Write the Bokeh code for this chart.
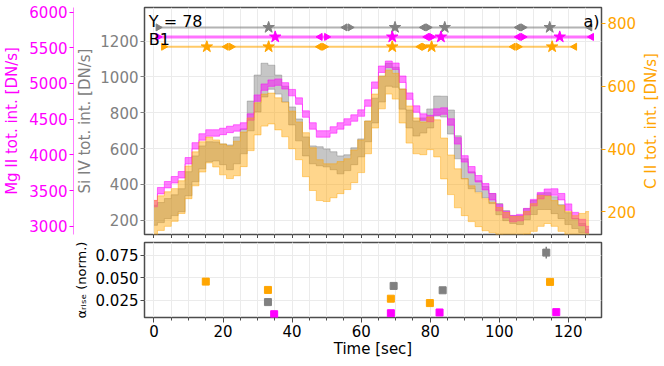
import math
from bokeh.plotting import figure
from bokeh.models import (Range1d, LinearAxis, SingleIntervalTicker, FixedTicker,
                          NumeralTickFormatter, Label, ColumnDataSource)
from bokeh.layouts import column, row
from bokeh.embed import file_html
from bokeh.resources import INLINE

# ---------------- data ----------------
time = [0, 2, 4, 6, 8, 10, 12, 14, 16, 18,
        20, 22, 24, 26, 28, 30, 32, 34, 36, 38,
        40, 42, 44, 46, 48, 50, 52, 54, 56, 58,
        60, 62, 64, 66, 68, 70, 72, 74, 76, 78,
        80, 82, 84, 86, 88, 90, 92, 94, 96, 98,
        100, 102, 104, 106, 108, 110, 112, 114, 116, 118,
        120, 122, 124, 126]

mg_int = [3317, 3498, 3582, 3651, 3721, 3917, 4126, 4251, 4307, 4307,
          4328, 4356, 4377, 4405, 4530, 4795, 4949, 5005, 5019, 4967,
          4872, 4754, 4572, 4405, 4293, 4293, 4349, 4405, 4461, 4516,
          4586, 4726, 4977, 5200, 5270, 5242, 5060, 4823, 4642, 4530,
          4509, 4600, 4614, 4461, 4196, 3944, 3791, 3665, 3554, 3414,
          3261, 3163, 3107, 3121, 3205, 3331, 3428, 3477, 3480, 3414,
          3268, 3149, 3052, 2954]
mg_err = 45

si_int = [228, 243, 265, 284, 312, 404, 487, 551, 582, 584,
          568, 551, 590, 640, 782, 907, 982, 998, 957, 904,
          782, 704, 612, 565, 557, 548, 532, 509, 521, 557,
          604, 696, 812, 932, 1012, 998, 876, 765, 712, 729,
          768, 837, 834, 748, 607, 487, 423, 390, 357, 321,
          262, 226, 204, 201, 234, 271, 304, 307, 284, 248,
          209, 182, 157, 132]
si_err = [56, 56, 56, 58, 64, 67, 72, 64, 56, 53,
          58, 69, 75, 69, 83, 103, 94, 67, 53, 44,
          50, 61, 53, 50, 53, 50, 50, 50, 44, 47,
          50, 58, 69, 72, 64, 56, 56, 50, 42, 42,
          53, 56, 58, 67, 64, 56, 47, 31, 31, 28,
          31, 28, 22, 25, 31, 39, 44, 47, 47, 39,
          33, 28, 25, 17]

c_int = [179, 196, 209, 222, 247, 294, 337, 375, 397, 386,
         367, 358, 370, 399, 447, 496, 524, 529, 512, 494,
         461, 426, 382, 336, 301, 293, 299, 309, 320, 345,
         377, 437, 521, 580, 613, 600, 537, 478, 442, 434,
         450, 434, 370, 318, 275, 247, 226, 207, 191, 182,
         171, 160, 150, 150, 165, 182, 203, 207, 195, 179,
         163, 152, 152, 152]
c_err = [57, 55, 55, 52, 52, 52, 54, 48, 41, 43,
         49, 52, 55, 55, 52, 51, 51, 49, 51, 55,
         60, 60, 70, 68, 65, 60, 54, 51, 49, 52,
         52, 52, 54, 52, 38, 41, 54, 59, 57, 52,
         52, 59, 65, 63, 62, 59, 57, 54, 51, 48,
         43, 38, 35, 35, 36, 44, 49, 44, 41, 41,
         38, 36, 43, 49]

# rise/decay intervals (start, peak, end) shown on top of the panel
si_start = [1.2, 56.8, 79.4, 106.9]
si_peak = [33.2, 69.8, 84.2, 114.6]
si_end = [55.3, 78.0, 105.5, 126.2]
mg_start = [1.2, 50.0, 80.4, 106.9]
mg_peak = [35.1, 69.0, 83.1, 117.5]
mg_end = [48.1, 79.0, 105.5, 126.7]
c_start = [2.8, 22.4, 49.4, 78.3, 105.5]
c_peak = [15.3, 33.2, 69.0, 80.4, 115.3]
c_end = [20.9, 47.9, 77.0, 104.0, 121.8]

# alpha_rise (norm.) in the lower panel
c_alpha_t = [15.0, 33.0, 68.6, 79.9, 114.7]
c_alpha = [0.0456, 0.0363, 0.0265, 0.0216, 0.0453]
c_alpha_err = [0.0010, 0.0010, 0.0010, 0.0010, 0.0010]
si_alpha_t = [33.0, 69.4, 83.6, 113.6]
si_alpha = [0.0227, 0.0408, 0.0359, 0.0780]
si_alpha_err = [0.0010, 0.0010, 0.0010, 0.0066]
mg_alpha_t = [34.8, 68.6, 82.7, 116.5]
mg_alpha = [0.0092, 0.0103, 0.0111, 0.0115]
mg_alpha_err = [0.0010, 0.0010, 0.0010, 0.0010]

# tick positions
x_minor_ticks = [0, 5, 10, 15, 20, 25, 30, 35, 40, 45, 50, 55, 60, 65,
                 70, 75, 80, 85, 90, 95, 100, 105, 110, 115, 120, 125]
alpha_ticks = [0.025, 0.05, 0.075]

# ---------------- styling ----------------
FONT = "DejaVu Sans"
MAG, GRAY, ORANGE = "#ff00ff", "#808080", "#ffa500"
FRAME = "#4d4d4d"
GRID = "#ebebeb"
SI_LEVEL, MG_LEVEL, C_LEVEL = 1276, 1223, 1168
TOP_H, BOT_H, FRAME_W, LEFT_W = 227, 75, 457, 143


def style_axis(ax, color, tick_color=None):
    ax.axis_label_text_font = FONT
    ax.axis_label_text_font_size = "15px"
    ax.axis_label_text_font_style = "normal"
    ax.axis_label_text_color = color
    ax.major_label_text_font = FONT
    ax.major_label_text_font_size = "15px"
    ax.major_label_text_color = color
    ax.major_tick_line_color = tick_color or color
    ax.minor_tick_line_color = tick_color or color
    ax.major_tick_out = 4
    ax.major_tick_in = 0
    ax.minor_tick_out = 2
    ax.minor_tick_in = 0
    ax.major_label_standoff = 2


x_range = Range1d(-2.75, 129.6)
si_range = Range1d(120.6, 1387)

top = figure(frame_width=FRAME_W, frame_height=TOP_H, x_range=x_range,
             y_range=si_range, output_backend="svg",
             toolbar_location=None, min_border_left=LEFT_W, min_border_right=40,
             min_border_top=7, min_border_bottom=0)
top.extra_y_ranges = {"mg": Range1d(2884, 6065), "c2": Range1d(128, 850.5)}
top.outline_line_color = FRAME
top.outline_line_width = 1.5
top.background_fill_color = "white"
top.border_fill_color = "white"

# Si IV axis (inner left)
yax = top.yaxis[0]
yax.ticker = SingleIntervalTicker(interval=200, num_minor_ticks=0)
yax.axis_label = "Si IV tot. int. [DN/s]"
style_axis(yax, GRAY)
yax.axis_line_color = None
yax.axis_label_standoff = 3

# Mg II axis (outer left)
mg_ax = LinearAxis(y_range_name="mg", axis_label="Mg II tot. int. [DN/s]",
                   ticker=SingleIntervalTicker(interval=500, num_minor_ticks=0))
style_axis(mg_ax, MAG)
mg_ax.axis_line_color = MAG
mg_ax.axis_line_alpha = 0.5
mg_ax.axis_label_standoff = 5
top.add_layout(mg_ax, "left")

# C II axis (right)
c_ax = LinearAxis(y_range_name="c2",
                  ticker=SingleIntervalTicker(interval=200, num_minor_ticks=0))
style_axis(c_ax, ORANGE)
c_ax.axis_line_color = None
top.add_layout(c_ax, "right")

# x axis of the upper panel: tick marks only
xax = top.xaxis[0]
xax.ticker = FixedTicker(ticks=[], minor_ticks=x_minor_ticks)
style_axis(xax, "black", FRAME)
xax.axis_line_color = None
xax.minor_tick_out = 4
xax.major_label_standoff = 0

top.xgrid.grid_line_color = GRID
top.xgrid.minor_grid_line_color = GRID
top.ygrid.grid_line_color = GRID


def band(p, c, e, color, alpha, rname):
    if isinstance(e, (int, float)):
        e = [e] * len(c)
    lo = [ci - ei for ci, ei in zip(c, e)]
    hi = [ci + ei for ci, ei in zip(c, e)]
    src = ColumnDataSource(dict(t=time, lo=lo, hi=hi))
    p.varea_step(x="t", y1="lo", y2="hi", step_mode="center", source=src,
                 fill_color=color, fill_alpha=alpha, y_range_name=rname)
    for col in ("lo", "hi"):
        p.step(x="t", y=col, mode="center", source=src, line_color=color,
               line_alpha=alpha, line_width=1, y_range_name=rname)


band(top, si_int, si_err, GRAY, 0.45, "default")
band(top, mg_int, mg_err, MAG, 0.5, "mg")
band(top, c_int, c_err, ORANGE, 0.45, "c2")


def intervals(p, starts, peaks, ends, level, color, lw, lalpha):
    p.line(x=[starts[0], ends[-1]], y=[level, level], line_color=color,
           line_width=lw, line_alpha=lalpha)
    p.scatter(x=starts, y=[level] * len(starts), marker="triangle",
              angle=-math.pi / 2, size=7, color=color)
    p.scatter(x=ends, y=[level] * len(ends), marker="triangle",
              angle=math.pi / 2, size=7, color=color)
    p.scatter(x=peaks, y=[level] * len(peaks), marker="star", size=12,
              color=color)


intervals(top, si_start, si_peak, si_end, SI_LEVEL, GRAY, 2, 0.6)
intervals(top, mg_start, mg_peak, mg_end, MG_LEVEL, MAG, 3, 0.55)
intervals(top, c_start, c_peak, c_end, C_LEVEL, ORANGE, 2, 0.6)

for txt, x, y, align in (("Y = 78", -1.5, 1308, "left"),
                         ("B1", -1.5, 1209, "left"),
                         ("a)", 129.0, 1310, "right")):
    top.add_layout(Label(x=x, y=y, text=txt, text_font=FONT,
                         text_font_size="16px", text_color="black",
                         text_align=align, text_baseline="alphabetic"))

# C II axis title, reading bottom-to-top, in a narrow strip to the right
cap = figure(frame_width=18, frame_height=TOP_H, x_range=Range1d(0, 1),
             y_range=Range1d(0, 1), output_backend="svg", toolbar_location=None,
             min_border_left=0, min_border_right=0, min_border_top=7,
             min_border_bottom=0, x_axis_location=None, y_axis_location=None)
cap.outline_line_color = None
cap.grid.visible = False
cap.border_fill_color = "white"
cap.add_layout(Label(x=0.5, y=0.5, text="C II tot. int. [DN/s]",
                     angle=math.pi / 2, text_font=FONT, text_font_size="15px",
                     text_color=ORANGE, text_align="center",
                     text_baseline="middle"))

# ---------------- lower panel ----------------
bot = figure(frame_width=FRAME_W, frame_height=BOT_H, x_range=x_range,
             y_range=Range1d(0.0055, 0.0893), output_backend="svg",
             toolbar_location=None, min_border_left=LEFT_W, min_border_right=10,
             min_border_top=4, min_border_bottom=0)
bot.outline_line_color = FRAME
bot.outline_line_width = 1.5
bot.background_fill_color = "white"
bot.border_fill_color = "white"

bx = bot.xaxis[0]
bx.ticker = SingleIntervalTicker(interval=20, num_minor_ticks=4)
bx.axis_label = "Time [sec]"
style_axis(bx, "black", FRAME)
bx.axis_line_color = None
bx.major_tick_out = 5
bx.minor_tick_out = 3
bx.axis_label_standoff = 0

by = bot.yaxis[0]
by.ticker = FixedTicker(ticks=alpha_ticks)
by.formatter = NumeralTickFormatter(format="0.000")
by.axis_label = "\u03b1\u1d63\u1d62\u209b\u2091 (norm.)"
style_axis(by, "black", FRAME)
by.axis_label_text_font_size = "13px"
by.axis_line_color = None
by.axis_label_standoff = 4

bot.xgrid.grid_line_color = GRID
bot.xgrid.minor_grid_line_color = GRID
bot.ygrid.grid_line_color = GRID

for ts, vs, es, color in ((c_alpha_t, c_alpha, c_alpha_err, ORANGE),
                          (si_alpha_t, si_alpha, si_alpha_err, GRAY),
                          (mg_alpha_t, mg_alpha, mg_alpha_err, MAG)):
    bot.segment(x0=ts, y0=[v - e for v, e in zip(vs, es)],
                x1=ts, y1=[v + e for v, e in zip(vs, es)],
                line_color=color, line_width=1.5)
    bot.scatter(x=ts, y=vs, marker="square", size=7, color=color)

layout = row(column(top, bot, spacing=0), cap, spacing=0)
open("out.html", "w").write(file_html(layout, INLINE))
